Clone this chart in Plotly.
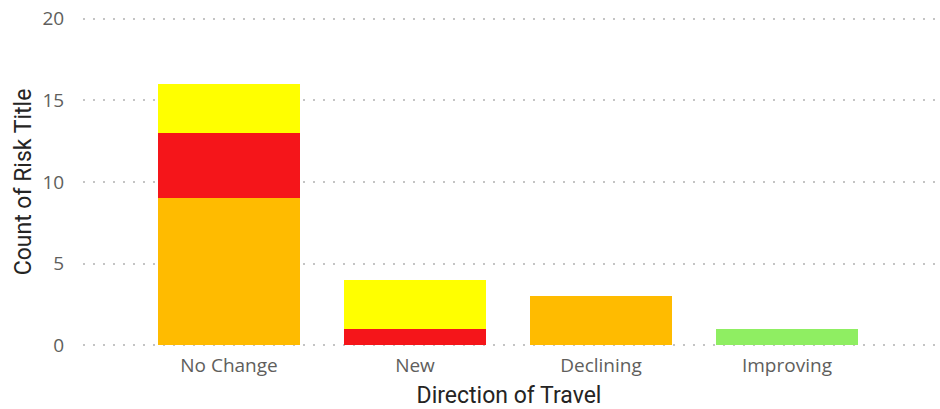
import plotly.graph_objects as go

categories = ["No Change", "New", "Declining", "Improving"]
amber = [9, 0, 3, 0]
red = [4, 1, 0, 0]
yellow = [3, 3, 0, 0]
green = [0, 0, 0, 1]
y_ticks = [0, 5, 10, 15, 20]

series = [
    ("Amber", amber, "#FFBB00"),
    ("Red", red, "#F5151A"),
    ("Yellow", yellow, "#FFFF00"),
    ("Green", green, "#8FEE62"),
]

fig = go.Figure()
for name, vals, col in series:
    fig.add_trace(go.Bar(x=categories, y=vals, name=name, marker_color=col,
                         marker_line_width=0, showlegend=False))

fig.update_layout(
    barmode="stack",
    bargap=0.237,
    width=940, height=409,
    margin=dict(l=83, r=5, t=16, b=59),
    plot_bgcolor="white", paper_bgcolor="white",
    font=dict(family="Open Sans", color="#666666"),
)
fig.update_xaxes(
    range=[-0.785, 3.796],
    tickfont=dict(size=19, color="#605E5C"),
    ticks="outside", ticklen=0, tickcolor="rgba(0,0,0,0)",
    title=dict(text="Direction of Travel", font=dict(size=23, color="#252423", family="Roboto"), standoff=10),
    showline=False, showgrid=False,
)
fig.update_yaxes(
    range=[-0.16, 20.16],
    tickvals=y_ticks,
    tickfont=dict(size=19, color="#605E5C"),
    ticks="outside", ticklen=14, tickcolor="rgba(0,0,0,0)",
    title=dict(text="Count of Risk Title", font=dict(size=23, color="#252423", family="Roboto"), standoff=4),
    showgrid=True, gridcolor="#C4C4C4", griddash="2px,8px", gridwidth=2,
    zeroline=False, showline=False,
)
fig.write_html("out.html")
